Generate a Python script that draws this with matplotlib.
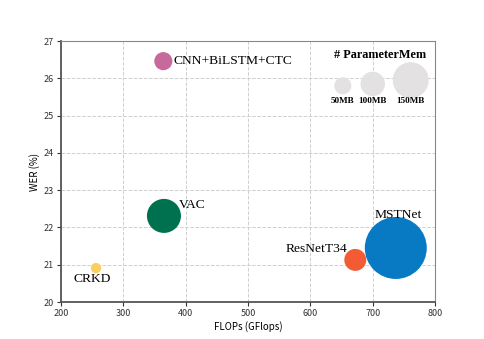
import matplotlib.pyplot as plt

# model results: FLOPs (G), WER (%), bubble area (pt^2) ~ parameter memory
models = ['CNN+BiLSTM+CTC', 'VAC', 'CRKD', 'ResNetT34', 'MSTNet']
flops = [364, 365, 256, 672, 737]
wer = [26.46, 22.31, 20.91, 21.13, 21.45]
mem_size = [170, 600, 55, 250, 1990]
colors = ['#C7699B', '#00714F', '#F8CF60', '#F35B35', '#077AC3']

# legend bubbles
legend_labels = ['50MB', '100MB', '150MB']
legend_x = [652, 700, 761]
legend_y = [25.8, 25.85, 25.95]
legend_size = [150, 310, 670]

plt.rcParams['font.family'] = ['Noto Sans CJK SC', 'DejaVu Sans']

fig = plt.figure(figsize=(4.85, 3.39), dpi=100)
ax = fig.add_axes([0.126, 0.109, 0.771, 0.770])

ax.scatter(flops, wer, s=mem_size, c=colors, edgecolors='none', zorder=3)
ax.scatter(legend_x, legend_y, s=legend_size, c='#E3E1E1', edgecolors='none', zorder=3)

# label offsets in points (text placement only)
offsets = [(7, 0, 'left', 'center'), (11, 8, 'left', 'center'),
           (-3, -8, 'center', 'center'), (-6, 8, 'right', 'center'),
           (1.5, 24, 'center', 'center')]
for name, x, y, (dx, dy, ha, va) in zip(models, flops, wer, offsets):
    ax.annotate(name, (x, y), xytext=(dx, dy), textcoords='offset points',
                ha=ha, va=va, family='Liberation Serif', fontsize=9.7, zorder=4)

for lab, x, y in zip(legend_labels, legend_x, legend_y):
    ax.annotate(lab, (x, 25.4), ha='center', va='center',
                family='Liberation Serif', weight='bold', fontsize=6.6)
ax.text(712, 26.62, '# ParameterMem', ha='center', va='center',
        family='Liberation Serif', weight='bold', fontsize=8.8)

ax.set_xlim(200, 800)
ax.set_ylim(20, 27)
ax.set_xticks(range(200, 801, 100))
ax.set_yticks(range(20, 28))
ax.grid(True, linestyle='--', color='#CFCFCF', linewidth=0.7, zorder=0)
ax.set_axisbelow(True)
ax.tick_params(labelsize=6.5, length=3, width=0.8, colors='#333333', pad=2)
ax.set_xlabel('FLOPs (GFlops)', fontsize=7, labelpad=2)
ax.set_ylabel('WER (%)', fontsize=7, labelpad=3)

for side in ['left', 'bottom']:
    ax.spines[side].set_color('#555555')
    ax.spines[side].set_linewidth(1.3)
for side in ['top', 'right']:
    ax.spines[side].set_color('#888888')
    ax.spines[side].set_linewidth(0.8)

fig.savefig('out.png', dpi=100)
